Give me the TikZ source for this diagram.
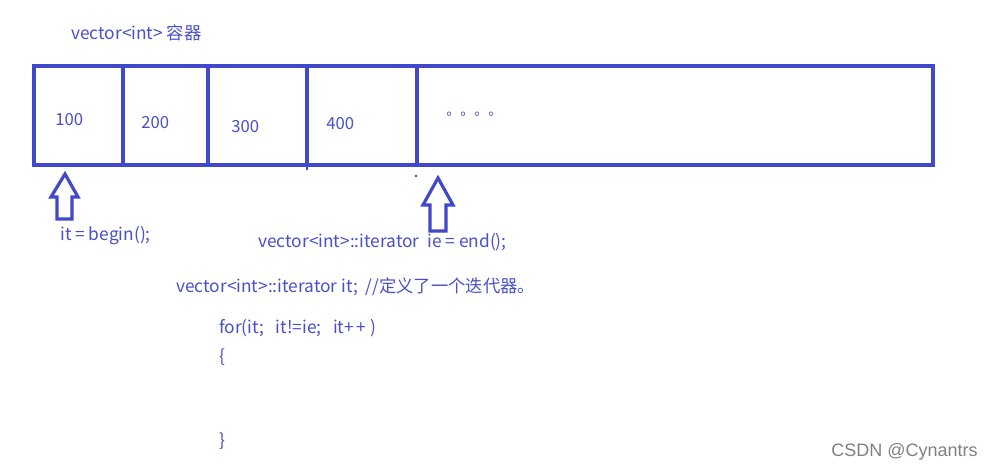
\documentclass[tikz,border=0pt]{standalone}
\usepackage{fontspec}
\newfontfamily\cjk{Noto Sans CJK SC}
\newfontfamily\markfont{Liberation Sans}
\usetikzlibrary{positioning}
\definecolor{boxblue}{HTML}{4048CC}
\definecolor{textblue}{HTML}{4A4FCB}

\begin{document}
\begin{tikzpicture}[
        x = 0.75pt,
        y = -0.75pt,
        txt/.style = {anchor=west, inner sep=0pt, text=textblue, font=\cjk\fontsize{13}{15}\selectfont},
        num/.style = {txt, font=\cjk\fontsize{12.5}{14}\selectfont},
        cell/.style = {draw=boxblue, line width=3pt},
        hollow/.style = {draw=boxblue, line width=2.4pt, line join=miter}
        ]
        \useasboundingbox[fill=white] (0,0) rectangle (993,473);
        \node[txt] (title) at (71,33) {vector<int> 容器};
        % the container cells
        \draw[cell] (34,66) rectangle (933,165);
        \foreach \xx in {123,208,307,417}
            \draw[cell] (\xx,66) -- (\xx,165);
        \draw[boxblue, line width=2pt] (307,165) -- (307,170);
        \fill[boxblue] (416,176) circle (1pt);
        \node[num] (v100) at (55,120) {100};
        \node[num] (v200) at (141,123) {200};
        \node[num] (v300) at (231,127) {300};
        \node[num] (v400) at (326,124) {400};
        \node[txt, font=\cjk\fontsize{10.5}{12}\selectfont] (more) at (446,114) {。。。。};
        % hollow up arrows
        \draw[hollow] (65,174) -- (78,197) -- (72,197) -- (72,219)
            -- (57,219) -- (57,197) -- (51,197) -- cycle;
        \draw[hollow] (438,178) -- (453,205) -- (446,205) -- (446,231)
            -- (430,231) -- (430,205) -- (423,205) -- cycle;
        \node[txt] (itbegin) at (60,236) {it = begin();};
        \node[txt] (ieend) at (258,242) {vector<int>::iterator~~ie = end();};
        \node[txt] (decl) at (176,287) {vector<int>::iterator it;~~//定义了一个迭代器。};
        \node[txt] (forline) at (219,328) {for(it;~~~it!=ie;~~~it+\,+ )};
        \node[txt] (lbrace) at (219,357) {\{};
        \node[txt] (rbrace) at (219,441) {\}};
        \node[anchor=west, inner sep=0pt, text=black!50, font=\markfont\fontsize{13.5}{15}\selectfont] (mark) at (831,452) {CSDN @Cynantrs};
    \end{tikzpicture}
\end{document}
